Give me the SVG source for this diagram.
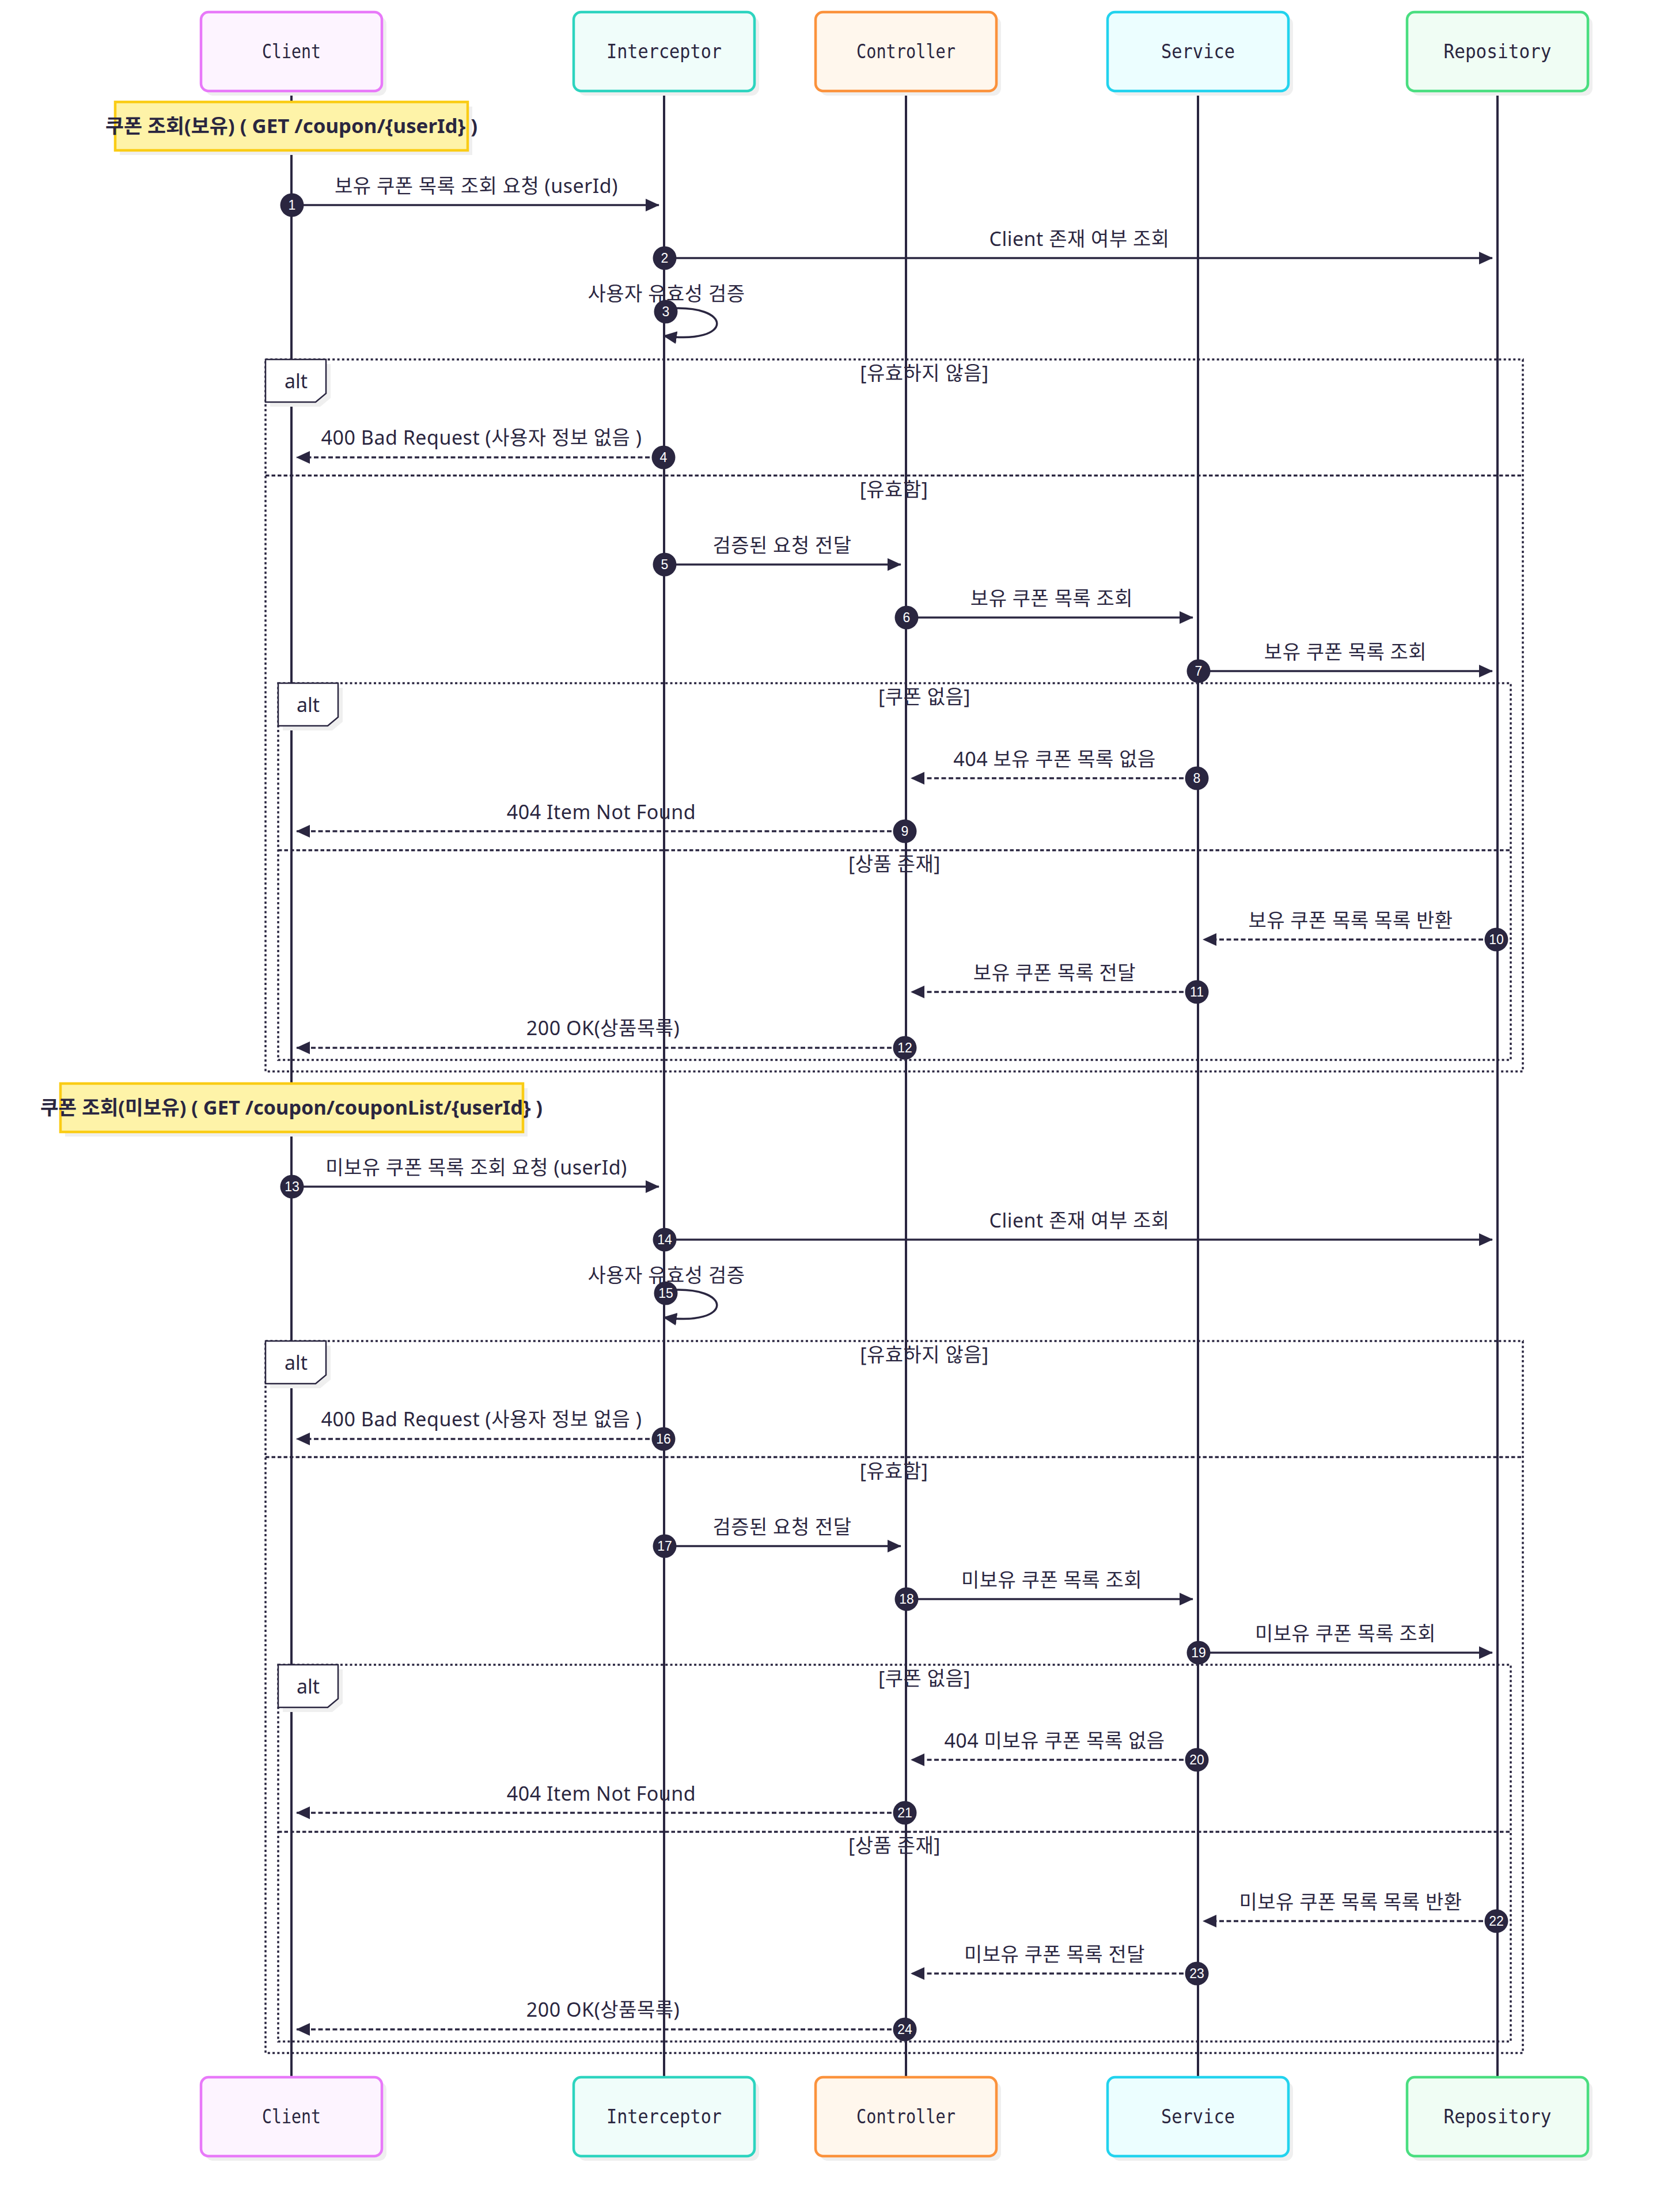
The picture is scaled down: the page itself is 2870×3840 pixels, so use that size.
<svg xmlns="http://www.w3.org/2000/svg" width="2870" height="3840" viewBox="0 0 2870 3840">
<style>
.bg{fill:#ffffff}
.shadow{fill:#efefef}
.actor{stroke-width:4.5}
.aname{font-family:"DejaVu Sans Mono","Liberation Mono",monospace;font-size:33px;fill:#2a2640;text-anchor:middle}
.life{stroke:#2a2640;stroke-width:4}
.msg{stroke:#2a2640;stroke-width:3.5;fill:none}
.dash{stroke-dasharray:8 4.5}
.lbl{font-family:"Noto Sans","Noto Sans CJK KR",sans-serif;font-size:34px;letter-spacing:0.5px;fill:#2a2640;text-anchor:middle}
.frame{fill:none;stroke:#2a2640;stroke-width:3.5;stroke-dasharray:4 4.3}
.sep{fill:none;stroke:#2a2640;stroke-width:3.5;stroke-dasharray:6.5 4}
.altbox{fill:#ffffff;stroke:#2a2640;stroke-width:2.5}
.altt{font-family:"Noto Sans",sans-serif;font-size:34px;fill:#2a2640;text-anchor:middle}
.note{fill:#fef3a8;stroke:#facc15;stroke-width:4.5}
.notet{font-family:"Noto Sans","Noto Sans CJK KR",sans-serif;font-size:34px;font-weight:bold;fill:#2a2640;text-anchor:middle}
.badge{fill:#2a2640}
.num{font-family:"Liberation Sans",Arial,sans-serif;font-size:23px;fill:#ffffff;text-anchor:middle}
</style>
<defs>
<marker id="ah" viewBox="0 0 24 22" refX="23" refY="11" markerWidth="24" markerHeight="22" markerUnits="userSpaceOnUse" orient="auto"><path d="M0,0 L24,11 L0,22 z" fill="#2a2640"/></marker>
</defs>
<rect class="bg" x="0" y="0" width="2870" height="3840"/>

<g id="lifelines">
<line class="life" x1="506" y1="158" x2="506" y2="3606"/>
<line class="life" x1="1153" y1="158" x2="1153" y2="3606"/>
<line class="life" x1="1573" y1="158" x2="1573" y2="3606"/>
<line class="life" x1="2080" y1="158" x2="2080" y2="3606"/>
<line class="life" x1="2600" y1="158" x2="2600" y2="3606"/>
</g>

<g id="client">
<rect class="shadow" x="357" y="29" width="314" height="137" rx="13"/>
<rect class="actor" x="349" y="21" width="314" height="137" rx="13" fill="#fdf4ff" stroke="#e879f9"/>
<text class="aname" x="506" y="101" textLength="102" lengthAdjust="spacingAndGlyphs">Client</text>
<rect class="shadow" x="357" y="3614" width="314" height="137" rx="13"/>
<rect class="actor" x="349" y="3606" width="314" height="137" rx="13" fill="#fdf4ff" stroke="#e879f9"/>
<text class="aname" x="506" y="3686" textLength="102" lengthAdjust="spacingAndGlyphs">Client</text>
</g>
<g id="interceptor">
<rect class="shadow" x="1004" y="29" width="314" height="137" rx="13"/>
<rect class="actor" x="996" y="21" width="314" height="137" rx="13" fill="#f0fdfa" stroke="#2dd4bf"/>
<text class="aname" x="1153" y="101" textLength="200" lengthAdjust="spacingAndGlyphs">Interceptor</text>
<rect class="shadow" x="1004" y="3614" width="314" height="137" rx="13"/>
<rect class="actor" x="996" y="3606" width="314" height="137" rx="13" fill="#f0fdfa" stroke="#2dd4bf"/>
<text class="aname" x="1153" y="3686" textLength="200" lengthAdjust="spacingAndGlyphs">Interceptor</text>
</g>
<g id="controller">
<rect class="shadow" x="1424" y="29" width="314" height="137" rx="13"/>
<rect class="actor" x="1416" y="21" width="314" height="137" rx="13" fill="#fff7ed" stroke="#fb923c"/>
<text class="aname" x="1573" y="101" textLength="172" lengthAdjust="spacingAndGlyphs">Controller</text>
<rect class="shadow" x="1424" y="3614" width="314" height="137" rx="13"/>
<rect class="actor" x="1416" y="3606" width="314" height="137" rx="13" fill="#fff7ed" stroke="#fb923c"/>
<text class="aname" x="1573" y="3686" textLength="172" lengthAdjust="spacingAndGlyphs">Controller</text>
</g>
<g id="service">
<rect class="shadow" x="1931" y="29" width="314" height="137" rx="13"/>
<rect class="actor" x="1923" y="21" width="314" height="137" rx="13" fill="#ecfeff" stroke="#22d3ee"/>
<text class="aname" x="2080" y="101" textLength="128" lengthAdjust="spacingAndGlyphs">Service</text>
<rect class="shadow" x="1931" y="3614" width="314" height="137" rx="13"/>
<rect class="actor" x="1923" y="3606" width="314" height="137" rx="13" fill="#ecfeff" stroke="#22d3ee"/>
<text class="aname" x="2080" y="3686" textLength="128" lengthAdjust="spacingAndGlyphs">Service</text>
</g>
<g id="repository">
<rect class="shadow" x="2451" y="29" width="314" height="137" rx="13"/>
<rect class="actor" x="2443" y="21" width="314" height="137" rx="13" fill="#f0fdf4" stroke="#4ade80"/>
<text class="aname" x="2600" y="101" textLength="187" lengthAdjust="spacingAndGlyphs">Repository</text>
<rect class="shadow" x="2451" y="3614" width="314" height="137" rx="13"/>
<rect class="actor" x="2443" y="3606" width="314" height="137" rx="13" fill="#f0fdf4" stroke="#4ade80"/>
<text class="aname" x="2600" y="3686" textLength="187" lengthAdjust="spacingAndGlyphs">Repository</text>
</g>

<g id="note1">
<rect class="shadow" x="208" y="185" width="612" height="84"/>
<rect class="note" x="200" y="177" width="612" height="84"/>
<text class="notet" x="506" y="231" textLength="646" lengthAdjust="spacingAndGlyphs">쿠폰 조회(보유) ( GET /coupon/{userId} )</text>
</g>
<g id="note2">
<rect class="shadow" x="113" y="1889" width="803" height="84"/>
<rect class="note" x="105" y="1881" width="803" height="84"/>
<text class="notet" x="506" y="1935" textLength="872" lengthAdjust="spacingAndGlyphs">쿠폰 조회(미보유) ( GET /coupon/couponList/{userId} )</text>
</g>

<g id="frames">
<rect class="frame" x="461" y="624" width="2183" height="1236"/>
<line class="sep" x1="461" y1="825.5" x2="2644" y2="825.5"/>
<polygon class="shadow" points="469,632 574,632 574,691 556,706 469,706"/>
<polygon class="altbox" points="461,624 566,624 566,683 548,698 461,698"/>
<text class="altt" x="514" y="674">alt</text>
<text class="lbl" x="1605" y="660">[유효하지 않음]</text>
<text class="lbl" x="1552" y="862">[유효함]</text>
<rect class="frame" x="483" y="1186" width="2140" height="654"/>
<line class="sep" x1="483" y1="1476" x2="2623" y2="1476"/>
<polygon class="shadow" points="491,1194 595,1194 595,1253 577,1268 491,1268"/>
<polygon class="altbox" points="483,1186 587,1186 587,1245 569,1260 483,1260"/>
<text class="altt" x="535" y="1236">alt</text>
<text class="lbl" x="1605" y="1222">[쿠폰 없음]</text>
<text class="lbl" x="1553" y="1512">[상품 존재]</text>

<rect class="frame" x="461" y="2328" width="2183" height="1236"/>
<line class="sep" x1="461" y1="2529.5" x2="2644" y2="2529.5"/>
<polygon class="shadow" points="469,2336 574,2336 574,2395 556,2410 469,2410"/>
<polygon class="altbox" points="461,2328 566,2328 566,2387 548,2402 461,2402"/>
<text class="altt" x="514" y="2378">alt</text>
<text class="lbl" x="1605" y="2364">[유효하지 않음]</text>
<text class="lbl" x="1552" y="2566">[유효함]</text>
<rect class="frame" x="483" y="2890" width="2140" height="654"/>
<line class="sep" x1="483" y1="3180" x2="2623" y2="3180"/>
<polygon class="shadow" points="491,2898 595,2898 595,2957 577,2972 491,2972"/>
<polygon class="altbox" points="483,2890 587,2890 587,2949 569,2964 483,2964"/>
<text class="altt" x="535" y="2940">alt</text>
<text class="lbl" x="1605" y="2926">[쿠폰 없음]</text>
<text class="lbl" x="1553" y="3216">[상품 존재]</text>
</g>

<g id="connectors">
<line class="msg" x1="506" y1="356" x2="1144" y2="356" marker-end="url(#ah)"/>
<line class="msg" x1="1153" y1="448" x2="2591" y2="448" marker-end="url(#ah)"/>
<path class="msg" d="M1156,536 C1275,526 1275,600 1152,583" marker-end="url(#ah)"/>
<line class="msg dash" x1="1153" y1="794" x2="515" y2="794" marker-end="url(#ah)"/>
<line class="msg" x1="1153" y1="980" x2="1564" y2="980" marker-end="url(#ah)"/>
<line class="msg" x1="1573" y1="1072" x2="2071" y2="1072" marker-end="url(#ah)"/>
<line class="msg" x1="2080" y1="1165" x2="2591" y2="1165" marker-end="url(#ah)"/>
<line class="msg dash" x1="2080" y1="1351" x2="1582" y2="1351" marker-end="url(#ah)"/>
<line class="msg dash" x1="1573" y1="1443" x2="515" y2="1443" marker-end="url(#ah)"/>
<line class="msg dash" x1="2600" y1="1631" x2="2089" y2="1631" marker-end="url(#ah)"/>
<line class="msg dash" x1="2080" y1="1722" x2="1582" y2="1722" marker-end="url(#ah)"/>
<line class="msg dash" x1="1573" y1="1819" x2="515" y2="1819" marker-end="url(#ah)"/>

<line class="msg" x1="506" y1="2060" x2="1144" y2="2060" marker-end="url(#ah)"/>
<line class="msg" x1="1153" y1="2152" x2="2591" y2="2152" marker-end="url(#ah)"/>
<path class="msg" d="M1156,2240 C1275,2230 1275,2304 1152,2287" marker-end="url(#ah)"/>
<line class="msg dash" x1="1153" y1="2498" x2="515" y2="2498" marker-end="url(#ah)"/>
<line class="msg" x1="1153" y1="2684" x2="1564" y2="2684" marker-end="url(#ah)"/>
<line class="msg" x1="1573" y1="2776" x2="2071" y2="2776" marker-end="url(#ah)"/>
<line class="msg" x1="2080" y1="2869" x2="2591" y2="2869" marker-end="url(#ah)"/>
<line class="msg dash" x1="2080" y1="3055" x2="1582" y2="3055" marker-end="url(#ah)"/>
<line class="msg dash" x1="1573" y1="3147" x2="515" y2="3147" marker-end="url(#ah)"/>
<line class="msg dash" x1="2600" y1="3335" x2="2089" y2="3335" marker-end="url(#ah)"/>
<line class="msg dash" x1="2080" y1="3426" x2="1582" y2="3426" marker-end="url(#ah)"/>
<line class="msg dash" x1="1573" y1="3523" x2="515" y2="3523" marker-end="url(#ah)"/>
</g>

<g id="labels">
<text class="lbl" x="827" y="335">보유 쿠폰 목록 조회 요청 (userId)</text>
<text class="lbl" x="1874" y="427">Client 존재 여부 조회</text>
<text class="lbl" x="1157" y="522">사용자 유효성 검증</text>
<text class="lbl" x="836" y="772">400 Bad Request (사용자 정보 없음 )</text>
<text class="lbl" x="1358" y="959">검증된 요청 전달</text>
<text class="lbl" x="1826" y="1051">보유 쿠폰 목록 조회</text>
<text class="lbl" x="2336" y="1144">보유 쿠폰 목록 조회</text>
<text class="lbl" x="1831" y="1330">404 보유 쿠폰 목록 없음</text>
<text class="lbl" x="1044" y="1422">404 Item Not Found</text>
<text class="lbl" x="2345" y="1610">보유 쿠폰 목록 목록 반환</text>
<text class="lbl" x="1831" y="1701">보유 쿠폰 목록 전달</text>
<text class="lbl" x="1047" y="1797">200 OK(상품목록)</text>

<text class="lbl" x="827" y="2039">미보유 쿠폰 목록 조회 요청 (userId)</text>
<text class="lbl" x="1874" y="2131">Client 존재 여부 조회</text>
<text class="lbl" x="1157" y="2226">사용자 유효성 검증</text>
<text class="lbl" x="836" y="2476">400 Bad Request (사용자 정보 없음 )</text>
<text class="lbl" x="1358" y="2663">검증된 요청 전달</text>
<text class="lbl" x="1826" y="2755">미보유 쿠폰 목록 조회</text>
<text class="lbl" x="2336" y="2848">미보유 쿠폰 목록 조회</text>
<text class="lbl" x="1831" y="3034">404 미보유 쿠폰 목록 없음</text>
<text class="lbl" x="1044" y="3126">404 Item Not Found</text>
<text class="lbl" x="2345" y="3314">미보유 쿠폰 목록 목록 반환</text>
<text class="lbl" x="1831" y="3405">미보유 쿠폰 목록 전달</text>
<text class="lbl" x="1047" y="3501">200 OK(상품목록)</text>
</g>

<g id="badges">
<circle class="badge" cx="507" cy="356" r="20.5"/><text class="num" x="507" y="364">1</text>
<circle class="badge" cx="1154" cy="448" r="20.5"/><text class="num" x="1154" y="456">2</text>
<circle class="badge" cx="1156" cy="541" r="20.5"/><text class="num" x="1156" y="549">3</text>
<circle class="badge" cx="1152" cy="794" r="20.5"/><text class="num" x="1152" y="802">4</text>
<circle class="badge" cx="1154" cy="980" r="20.5"/><text class="num" x="1154" y="988">5</text>
<circle class="badge" cx="1574" cy="1072" r="20.5"/><text class="num" x="1574" y="1080">6</text>
<circle class="badge" cx="2081" cy="1165" r="20.5"/><text class="num" x="2081" y="1173">7</text>
<circle class="badge" cx="2078" cy="1351" r="20.5"/><text class="num" x="2078" y="1359">8</text>
<circle class="badge" cx="1571" cy="1443" r="20.5"/><text class="num" x="1571" y="1451">9</text>
<circle class="badge" cx="2598" cy="1631" r="20.5"/><text class="num" x="2598" y="1639">10</text>
<circle class="badge" cx="2078" cy="1722" r="20.5"/><text class="num" x="2078" y="1730">11</text>
<circle class="badge" cx="1571" cy="1819" r="20.5"/><text class="num" x="1571" y="1827">12</text>

<circle class="badge" cx="507" cy="2060" r="20.5"/><text class="num" x="507" y="2068">13</text>
<circle class="badge" cx="1154" cy="2152" r="20.5"/><text class="num" x="1154" y="2160">14</text>
<circle class="badge" cx="1156" cy="2245" r="20.5"/><text class="num" x="1156" y="2253">15</text>
<circle class="badge" cx="1152" cy="2498" r="20.5"/><text class="num" x="1152" y="2506">16</text>
<circle class="badge" cx="1154" cy="2684" r="20.5"/><text class="num" x="1154" y="2692">17</text>
<circle class="badge" cx="1574" cy="2776" r="20.5"/><text class="num" x="1574" y="2784">18</text>
<circle class="badge" cx="2081" cy="2869" r="20.5"/><text class="num" x="2081" y="2877">19</text>
<circle class="badge" cx="2078" cy="3055" r="20.5"/><text class="num" x="2078" y="3063">20</text>
<circle class="badge" cx="1571" cy="3147" r="20.5"/><text class="num" x="1571" y="3155">21</text>
<circle class="badge" cx="2598" cy="3335" r="20.5"/><text class="num" x="2598" y="3343">22</text>
<circle class="badge" cx="2078" cy="3426" r="20.5"/><text class="num" x="2078" y="3434">23</text>
<circle class="badge" cx="1571" cy="3523" r="20.5"/><text class="num" x="1571" y="3531">24</text>
</g>
</svg>
